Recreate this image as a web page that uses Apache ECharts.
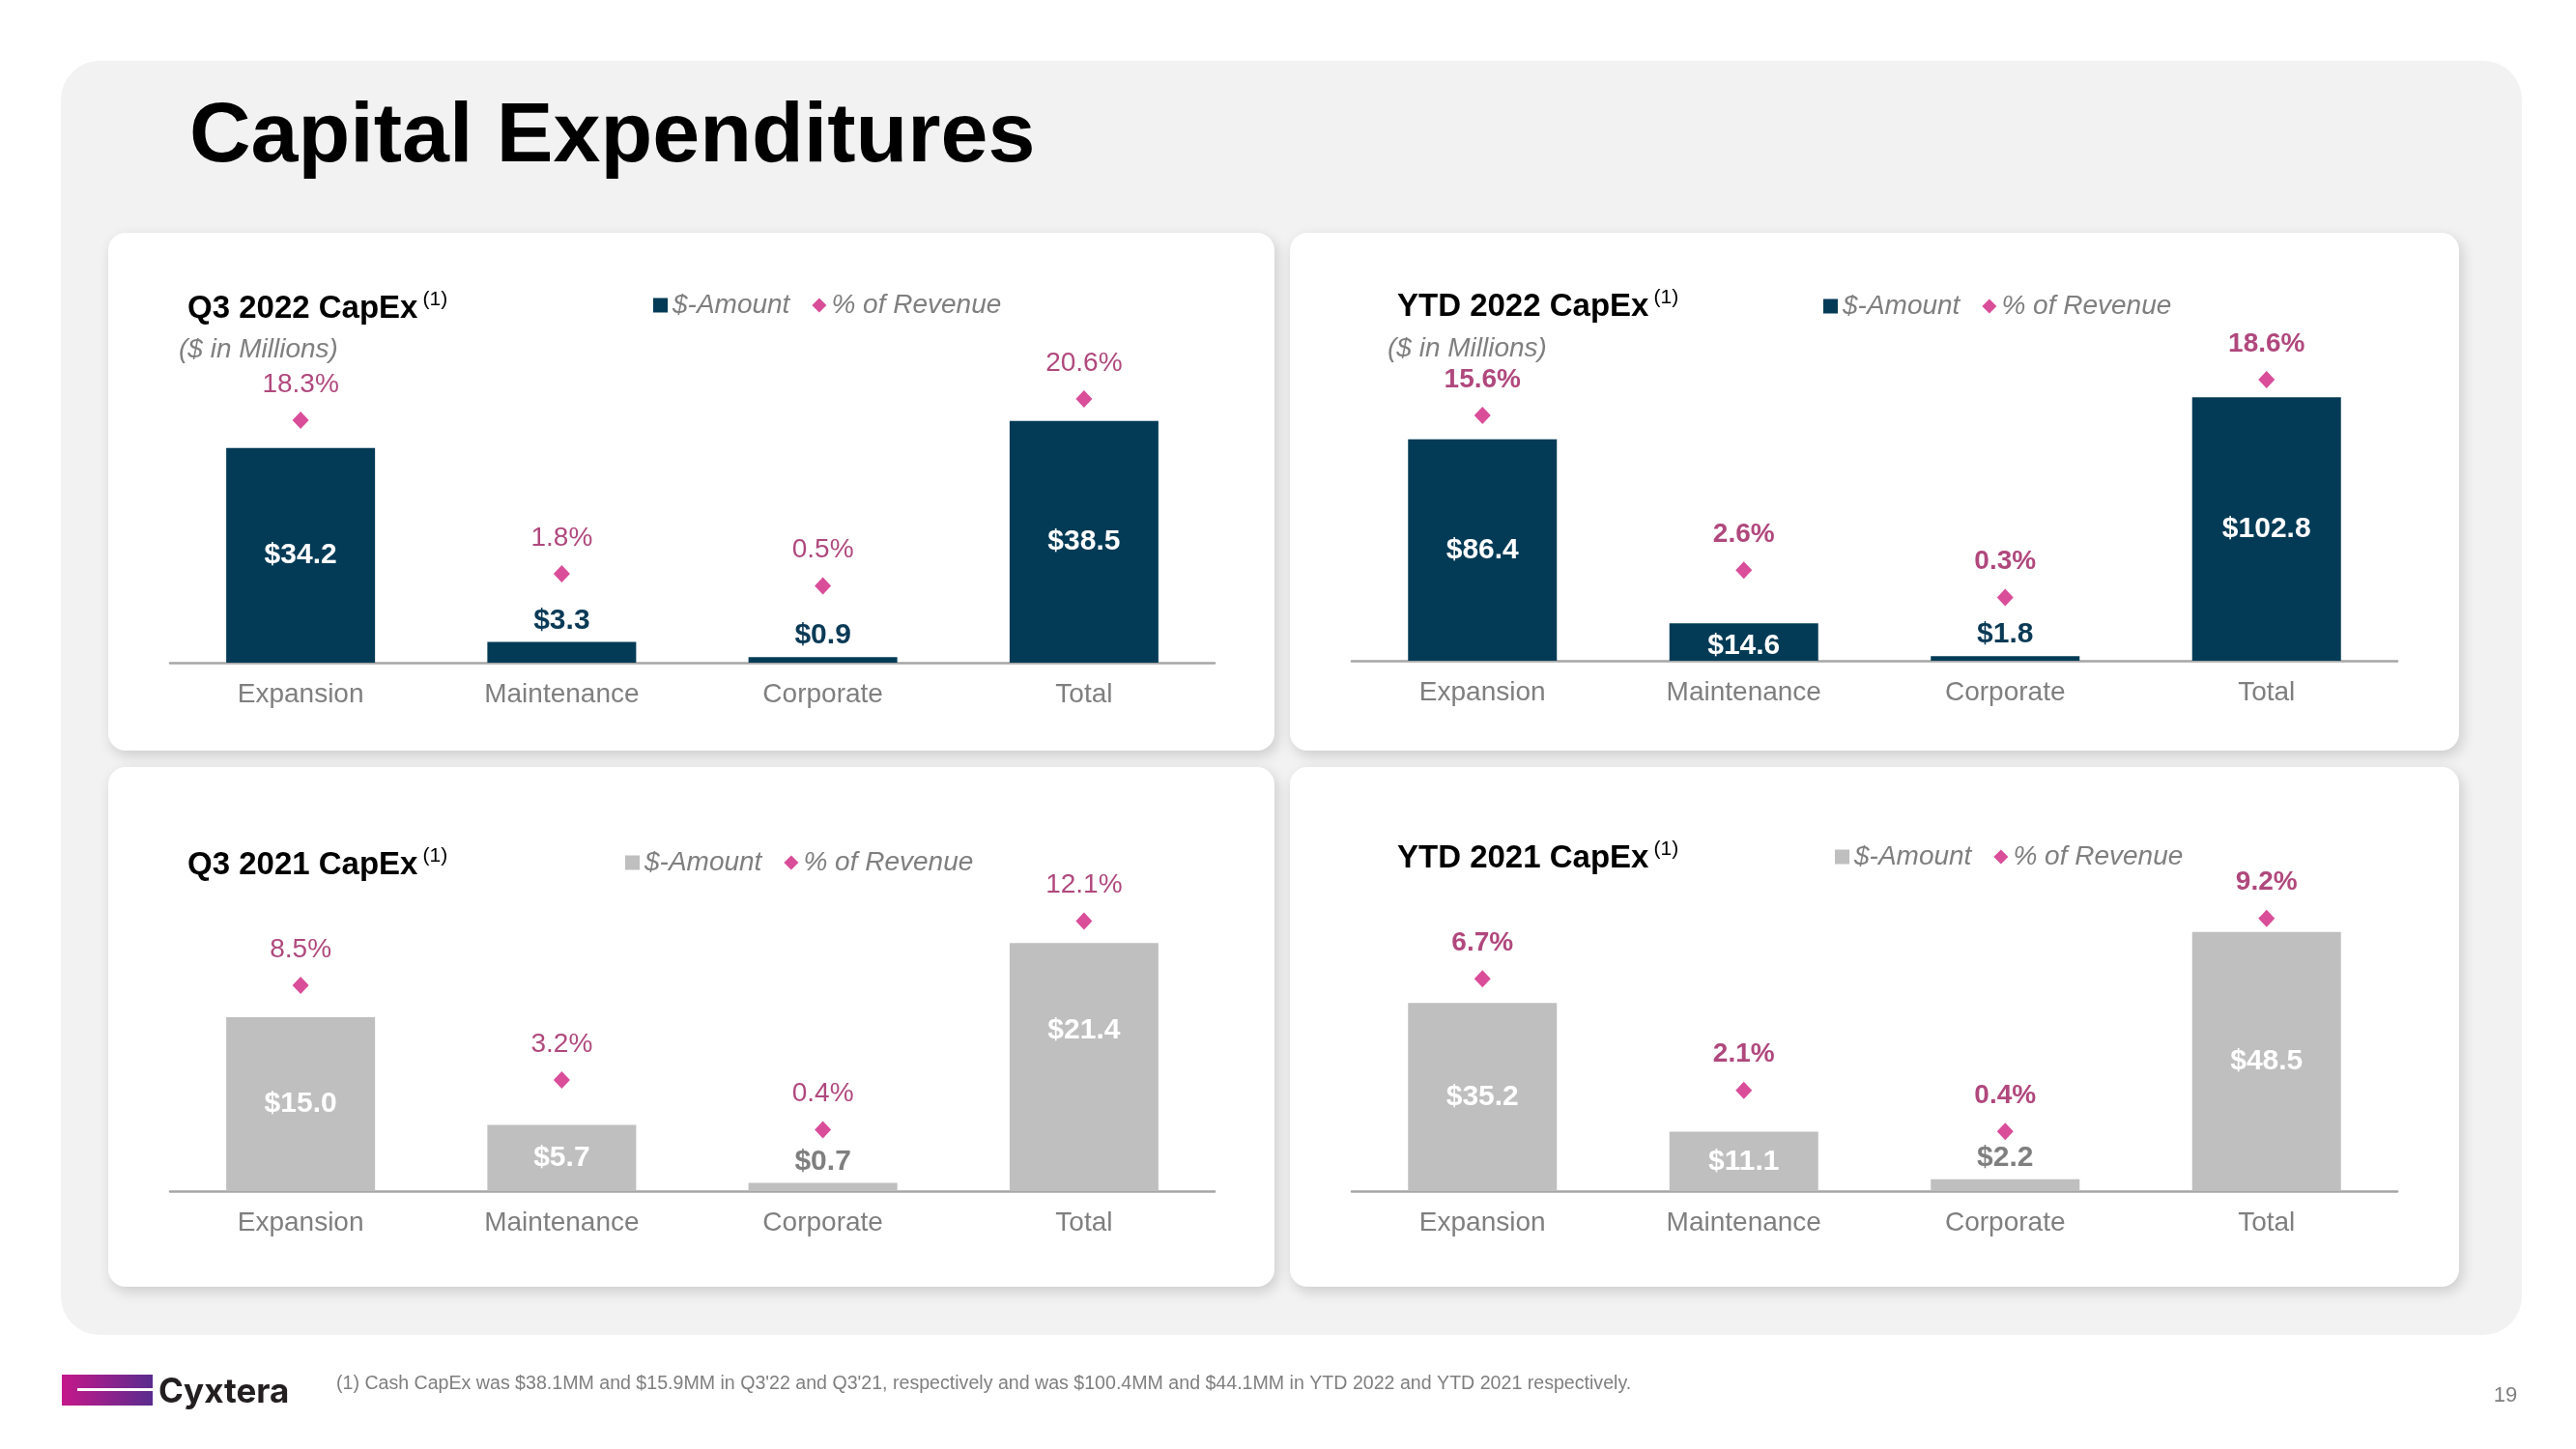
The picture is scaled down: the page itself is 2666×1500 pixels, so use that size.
<!DOCTYPE html>
<html>
<head>
<meta charset="utf-8">
<script src="https://cdn.jsdelivr.net/npm/echarts@6/dist/echarts.min.js"></script>
<style>
html,body{margin:0;padding:0;background:#ffffff;}
#c{width:2666px;height:1500px;}
</style>
</head>
<body>
<div id="c"></div>
<script>
// ---------- DATA ----------
const categories = ['Expansion', 'Maintenance', 'Corporate', 'Total'];
const legendNames = ['$-Amount', '% of Revenue'];

const q3_2022_amount = [34.2, 3.3, 0.9, 38.5];
const q3_2022_pct    = [18.3, 1.8, 0.5, 20.6];

const ytd_2022_amount = [86.4, 14.6, 1.8, 102.8];
const ytd_2022_pct    = [15.6, 2.6, 0.3, 18.6];

const q3_2021_amount = [15.0, 5.7, 0.7, 21.4];
const q3_2021_pct    = [8.5, 3.2, 0.4, 12.1];

const ytd_2021_amount = [35.2, 11.1, 2.2, 48.5];
const ytd_2021_pct    = [6.7, 2.1, 0.4, 9.2];

const panelTitles = ['Q3 2022 CapEx', 'YTD 2022 CapEx', 'Q3 2021 CapEx', 'YTD 2021 CapEx'];
const mainTitle = 'Capital Expenditures';
const unitsNote = '($ in Millions)';
const footnote = "(1) Cash CapEx was $38.1MM and $15.9MM in Q3'22 and Q3'21, respectively and was $100.4MM and $44.1MM in YTD 2022 and YTD 2021 respectively.";
const pageNumber = '19';

// ---------- LAYOUT / STYLE ----------
const FONT = '"Liberation Sans", Arial, Helvetica, sans-serif';
const NAVY = '#033b56';
const GREY_BAR = '#bfbfbf';
const DIAMOND = '#d0207f';
const PCT_TEXT = '#9c1a5c';
const AXIS_TEXT = '#7f7f7f';

const panels = [
  { key: 'p1', title: panelTitles[0], amount: q3_2022_amount, pct: q3_2022_pct,
    card: [112, 241, 1207, 536], grid: [176, 356, 1081, 330], yMax: 50.77, pMin: -7.757, pMax: 26.51,
    barColor: NAVY, outColor: '#0b3a56', pctBold: false,
    titlePos: [194, 318], units: [185, 362], legendPos: [676, 317] },
  { key: 'p2', title: panelTitles[1], amount: ytd_2022_amount, pct: ytd_2022_pct,
    card: [1335, 241, 1210, 536], grid: [1399, 354, 1082, 330], yMax: 124.4, pMin: -5.004, pMax: 21.76,
    barColor: NAVY, outColor: '#0b3a56', pctBold: true,
    titlePos: [1446, 316], units: [1436, 361], legendPos: [1887, 318],
    labelShift: {1: 4} },
  { key: 'p3', title: panelTitles[2], amount: q3_2021_amount, pct: q3_2021_pct,
    card: [112, 794, 1207, 538], grid: [176, 903, 1081, 330], yMax: 27.5, pMin: -3.034, pMax: 14.84,
    barColor: GREY_BAR, outColor: '#7f7f7f', pctBold: false,
    titlePos: [194, 894], units: null, legendPos: [647, 894],
    labelShift: {3: -38} },
  { key: 'p4', title: panelTitles[3], amount: ytd_2021_amount, pct: ytd_2021_pct,
    card: [1335, 794, 1210, 538], grid: [1399, 903, 1082, 330], yMax: 59.67, pMin: -2.057, pMax: 11.10,
    barColor: GREY_BAR, outColor: '#7f7f7f', pctBold: true,
    titlePos: [1446, 887], units: null, legendPos: [1899, 888] }
];

// ---------- BUILD OPTION ----------
const grid = [], xAxis = [], yAxis = [], series = [], legend = [];
const graphic = [];

graphic.push({ type: 'rect', z: -100, shape: { x: 63, y: 63, width: 2547, height: 1319, r: 40 },
  style: { fill: '#f2f2f2' } });

graphic.push({ type: 'text', x: 196, y: 143, z: 10,
  style: { text: mainTitle, font: 'bold 88px ' + FONT, fill: '#000000', verticalAlign: 'middle' } });

panels.forEach((p, i) => {
  const [cx, cy, cw, ch] = p.card;
  graphic.push({ type: 'rect', z: -50, shape: { x: cx, y: cy, width: cw, height: ch, r: 18 },
    style: { fill: '#ffffff', shadowBlur: 14, shadowColor: 'rgba(0,0,0,0.16)', shadowOffsetX: 3, shadowOffsetY: 5 } });
  graphic.push({ type: 'text', x: p.titlePos[0], y: p.titlePos[1], z: 10,
    style: {
      text: '{t|' + p.title + '}{s|(1)}',
      verticalAlign: 'middle',
      rich: {
        t: { fontFamily: FONT, fontWeight: 'bold', fontSize: 33, fill: '#000', color: '#000', lineHeight: 36, verticalAlign: 'bottom' },
        s: { fontFamily: FONT, fontSize: 21, fill: '#000', color: '#000', lineHeight: 36, verticalAlign: 'top', padding: [0, 0, 0, 5] }
      }
    } });
  if (p.units) {
    graphic.push({ type: 'text', x: p.units[0], y: p.units[1], z: 10,
      style: { text: unitsNote, font: 'italic 28px ' + FONT, fill: AXIS_TEXT, verticalAlign: 'middle' } });
  }

  const [gx, gy, gw, gh] = p.grid;
  grid.push({ left: gx, top: gy, width: gw, height: gh, containLabel: false });
  xAxis.push({
    type: 'category', gridIndex: i, data: categories,
    axisLine: { lineStyle: { color: '#a6a6a6', width: 2.5 } },
    axisTick: { show: false },
    axisLabel: { color: AXIS_TEXT, fontSize: 28, fontFamily: FONT, margin: 19 }
  });
  yAxis.push({ type: 'value', gridIndex: i, min: 0, max: p.yMax, show: false });
  yAxis.push({ type: 'value', gridIndex: i, min: p.pMin, max: p.pMax, show: false });

  const barName = p.key + '|' + legendNames[0];
  const pctName = p.key + '|' + legendNames[1];

  series.push({
    type: 'bar', name: barName, xAxisIndex: i, yAxisIndex: 2 * i,
    barWidth: 154,
    itemStyle: { color: p.barColor },
    label: {
      show: true, fontFamily: FONT, fontWeight: 'bold', fontSize: 30,
      formatter: (prm) => '$' + Number(prm.value).toFixed(1)
    },
    data: p.amount.map((v, j) => {
      const px = v / p.yMax * gh;
      const inside = px > 30;
      const shift = (p.labelShift && p.labelShift[j]) || 0;
      return {
        value: v,
        label: inside
          ? { position: 'inside', color: '#ffffff', offset: [0, shift] }
          : { position: 'top', distance: 7, color: p.outColor }
      };
    })
  });

  series.push({
    type: 'scatter', name: pctName, xAxisIndex: i, yAxisIndex: 2 * i + 1,
    symbol: 'diamond', symbolSize: [17, 18],
    itemStyle: { color: DIAMOND },
    label: {
      show: true, position: 'top', distance: 14,
      fontFamily: FONT, fontSize: 28, fontWeight: p.pctBold ? 'bold' : 'normal', color: PCT_TEXT,
      formatter: (prm) => {
        const v = Array.isArray(prm.value) ? prm.value[prm.value.length - 1] : prm.value;
        return Number(v).toFixed(1) + '%';
      }
    },
    data: p.pct
  });

  legend.push({
    data: [{ name: barName, icon: 'rect' }, { name: pctName, icon: 'diamond' }],
    left: p.legendPos[0], top: p.legendPos[1] - 15, padding: 0,
    itemGap: 23, itemWidth: 15, itemHeight: 15, selectedMode: false,
    formatter: (n) => n.split('|')[1],
    textStyle: { fontFamily: FONT, fontStyle: 'italic', fontSize: 28, color: AXIS_TEXT }
  });
});

// footer
graphic.push({ type: 'rect', z: 10, shape: { x: 64, y: 1423, width: 94, height: 32 },
  style: { fill: new echarts.graphic.LinearGradient(0, 0, 1, 0, [
    { offset: 0, color: '#c5188a' }, { offset: 1, color: '#5a2c8e' }]) } });
graphic.push({ type: 'rect', z: 11, shape: { x: 80, y: 1437, width: 78, height: 3 }, style: { fill: '#ffffff' } });
graphic.push({ type: 'text', x: 164, y: 1441, z: 10,
  style: { text: 'Cyxtera', font: 'bold 35px Inter, "Noto Sans", sans-serif', fill: '#231f20', verticalAlign: 'middle' } });
graphic.push({ type: 'text', x: 348, y: 1433, z: 10,
  style: { text: footnote, font: '19.6px ' + FONT, fill: AXIS_TEXT, verticalAlign: 'middle' } });
graphic.push({ type: 'text', x: 2593, y: 1445, z: 10,
  style: { text: pageNumber, font: '22px ' + FONT, fill: AXIS_TEXT, verticalAlign: 'middle', align: 'center' } });

const option = {
  animation: false,
  backgroundColor: '#ffffff',
  textStyle: { fontFamily: FONT },
  grid, xAxis, yAxis, series, legend, graphic
};

const chart = echarts.init(document.getElementById('c'), null, { renderer: 'canvas' });
chart.setOption(option);
</script>
</body>
</html>
